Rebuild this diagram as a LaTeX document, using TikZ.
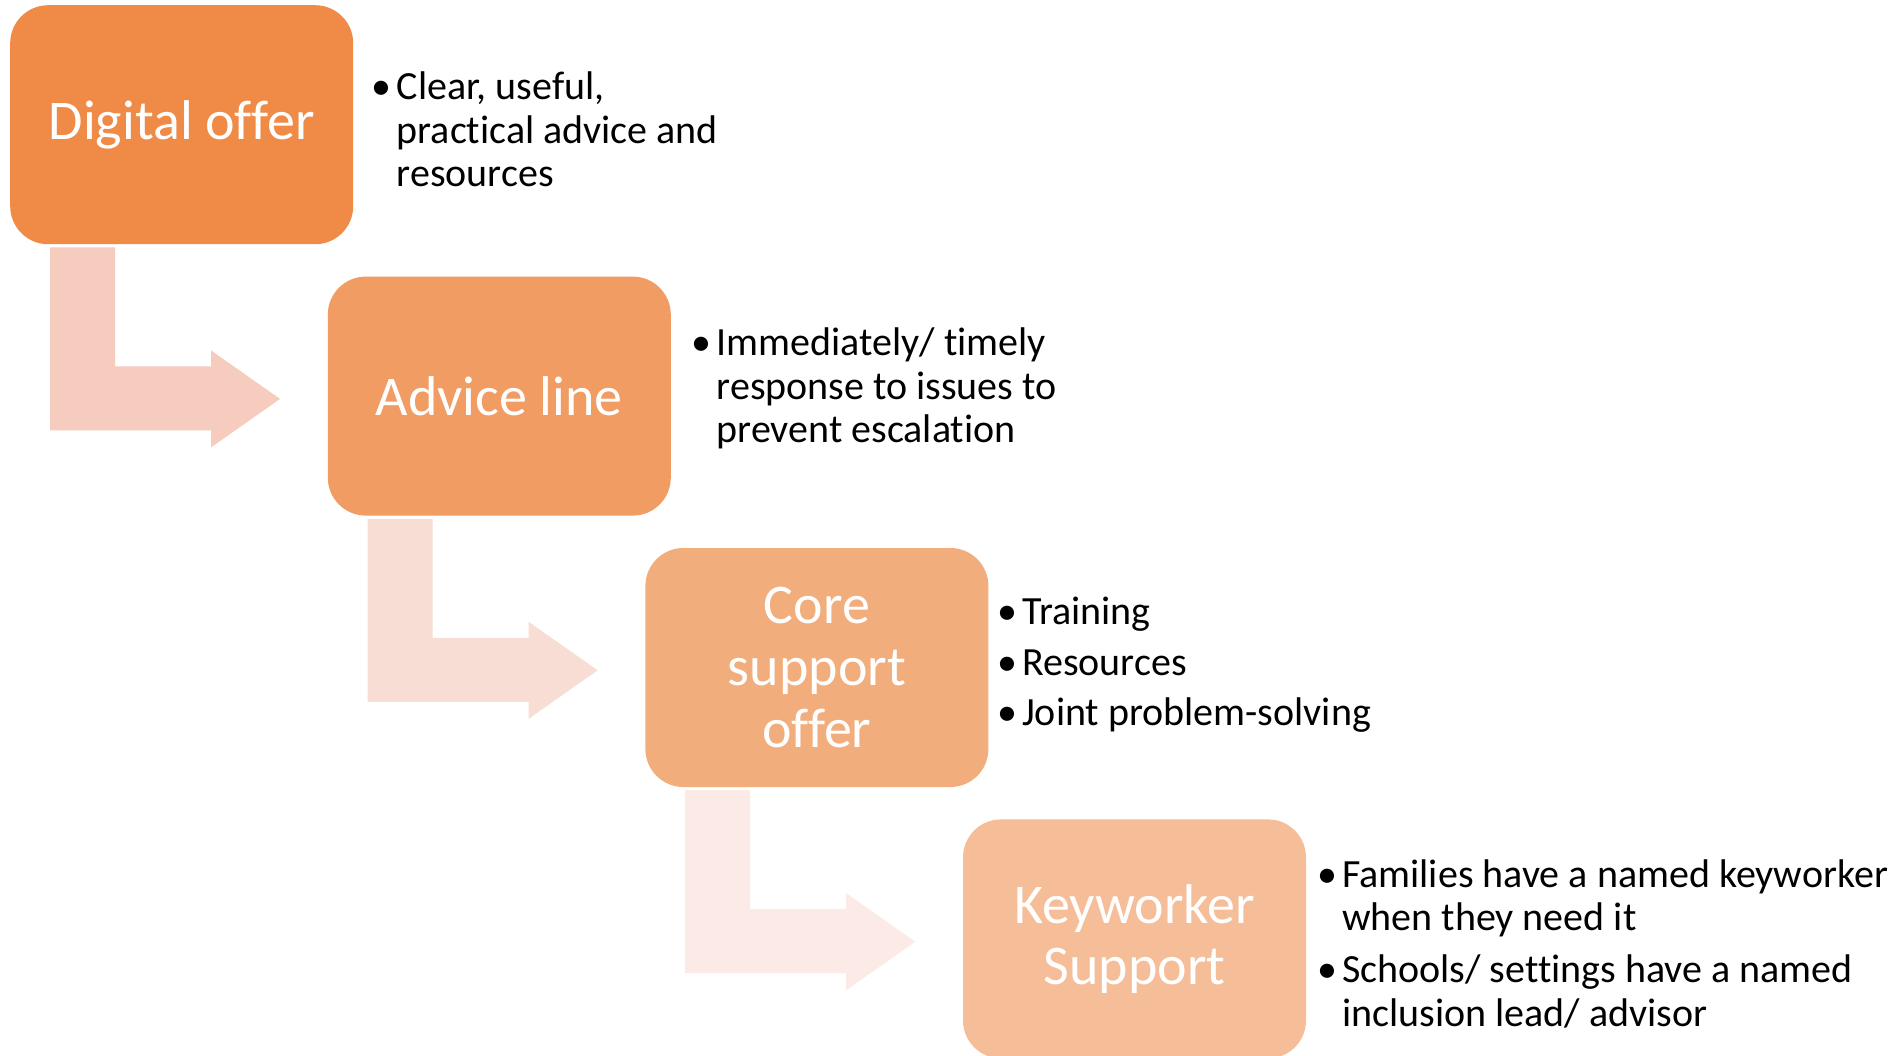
\documentclass[tikz,border=0pt]{standalone}
\usepackage{fontspec}
\setmainfont[RawFeature={-liga;-clig;-calt;-dlig}]{Carlito}
\usetikzlibrary{calc}

\definecolor{boxA}{HTML}{EF8B47}
\definecolor{boxB}{HTML}{F09C62}
\definecolor{boxC}{HTML}{F2AD7C}
\definecolor{boxD}{HTML}{F5BE98}
\definecolor{arrA}{HTML}{F6CCBF}
\definecolor{arrB}{HTML}{F8DDD4}
\definecolor{arrC}{HTML}{FBEAE5}

\newcommand\itm{\strut\llap{\textbullet\hspace{5pt}}}

\tikzset{
  stage/.style={rounded corners=38pt, minimum width=343pt, minimum height=239pt,
    inner sep=0pt, text=white, align=center,
    font=\fontsize{56pt}{61.6pt}\selectfont},
  bullets/.style={anchor=north west, inner sep=0pt, align=left, text=black,
    font=\fontsize{40pt}{43.5pt}\selectfont}
}

% L-shaped block arrow hanging below a stage box
\newcommand\bentarrow[2]{%
  \begin{scope}[shift={(#1.south west)}]
    \fill[#2] (40,3) -- (105,3) -- (105,122) -- (201,122) -- (201,106)
      -- (270,154.5) -- (201,203) -- (201,186) -- (40,186) -- cycle;
  \end{scope}}

\begin{document}
\begin{tikzpicture}[x=1pt,y=-1pt]
\useasboundingbox[fill=white] (0,0) rectangle (1894,1055);

% stage boxes
\node[stage, fill=boxA, anchor=north west] (n1) at (10,5) {Digital offer};
\node[stage, fill=boxB, anchor=north west] (n2) at (327.6,276.4) {Advice line};
\node[stage, fill=boxC, anchor=north west] (n3) at (645.2,547.8) {Core\\support\\offer};
\node[stage, fill=boxD, anchor=north west] (n4) at (962.8,819.2) {Keyworker\\Support};

% connecting arrows
\bentarrow{n1}{arrA}
\bentarrow{n2}{arrB}
\bentarrow{n3}{arrC}

% bullet lists
\node[bullets] (l1) at (396.5,69) {\itm Clear, useful,\\practical advice and\\resources};
\node[bullets] (l2) at (716.5,325) {\itm Immediately/ timely\\response to issues to\\prevent escalation};
\node[bullets] (l3) at (1022,594) {\itm Training\\[7pt]\itm Resources\\[7pt]\itm Joint problem-solving};
\node[bullets] (l4) at (1342,856.5) {\itm Families have a named keyworker\\when they need it\\[8.5pt]\itm Schools/ settings have a named\\inclusion lead/ advisor};
\end{tikzpicture}
\end{document}
